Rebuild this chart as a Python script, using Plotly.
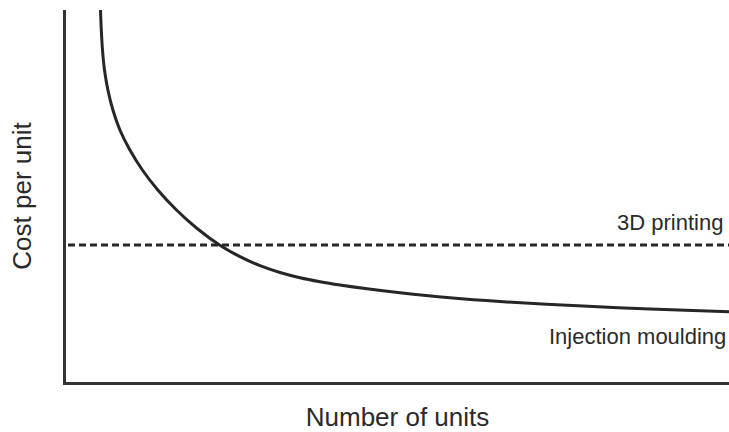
import plotly.graph_objects as go

# arbitrary units
units = [34.5, 35.3, 36.5, 38.5, 41.9, 46.9, 53.9, 63.9, 76.4, 91.8, 110.5,
         130.5, 153.5, 174, 194, 214, 234, 254, 274, 301, 334, 384, 434, 517,
         584, 663]
injection_cost = [372, 352, 332, 312, 292, 272, 252, 232, 212, 192, 172, 154,
                  137, 125.3, 116.3, 109.5, 104.3, 100.3, 97, 93.2, 89.2,
                  84.2, 80.45, 75.9, 73.1, 70.3]
printing_units = [2, 663]
printing_cost = [137, 137]

INK = "#262626"
FONT = "Liberation Sans"

fig = go.Figure()
fig.add_trace(go.Scatter(x=units, y=injection_cost, mode="lines",
                         name="Injection moulding",
                         line=dict(color=INK, width=3, shape="spline",
                                   smoothing=1)))
fig.add_trace(go.Scatter(x=printing_units, y=printing_cost, mode="lines",
                         name="3D printing",
                         line=dict(color=INK, width=3, dash="7px,4px")))

fig.add_annotation(x=1, xref="paper", y=printing_cost[0], yref="y",
                   text="3D printing", showarrow=False, xanchor="right",
                   yanchor="bottom", xshift=-4, yshift=8)
fig.add_annotation(x=1, xref="paper", y=injection_cost[-1], yref="y",
                   text="Injection moulding", showarrow=False, xanchor="right",
                   yanchor="top", xshift=-1, yshift=-10)

fig.update_layout(
    width=729, height=432, showlegend=False,
    margin=dict(l=66, r=0, t=10, b=50),
    paper_bgcolor="white", plot_bgcolor="white",
    font=dict(family=FONT, size=22, color="#2a2a2a"),
)
fig.update_xaxes(range=[0, 663], showgrid=False, zeroline=False,
                 showticklabels=False, ticks="", showline=True,
                 linecolor="#333333", linewidth=3,
                 title=dict(text="Number of units", standoff=25))
fig.update_yaxes(range=[0, 372], showgrid=False, zeroline=False,
                 showticklabels=False, ticks="", showline=True,
                 linecolor="#333333", linewidth=3,
                 title=dict(text="Cost per unit", standoff=24))

fig.write_html("out.html", config={"displayModeBar": False},
               post_script="document.body.style.margin='0';")
